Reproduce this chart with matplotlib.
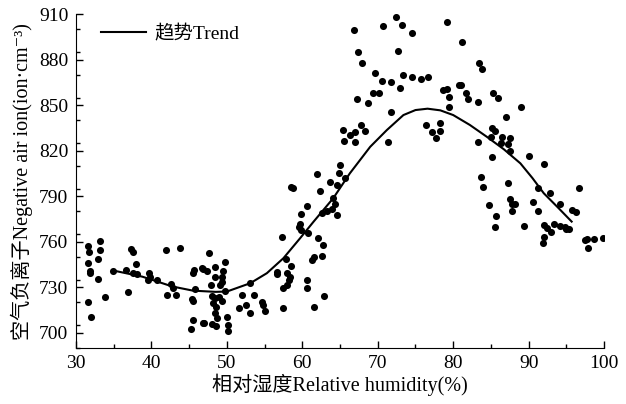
import numpy as np
import matplotlib.pyplot as plt
from matplotlib.ticker import MultipleLocator

plt.rcParams['font.family'] = ['Liberation Serif', 'Noto Sans CJK SC', 'DejaVu Sans']

# scatter points (relative humidity %, negative air ion)
humidity = [31.55, 31.76, 33.2, 33.2, 31.6, 31.9, 31.8, 32.96, 32.9, 31.6, 33.9, 32.0, 34.9,
            36.6, 36.85, 37.3, 37.5, 37.95, 37.6, 38.05, 39.7, 39.8, 39.6, 40.7, 41.9, 43.8,
            42.6, 42.9, 42.1, 43.2, 45.7, 45.55, 46.7, 45.8, 45.4, 45.55, 45.55, 45.3, 46.8,
            47.6, 46.9, 47.4, 48.4, 49.75, 49.5, 48.4, 49.3, 49.4, 47.9, 49.1, 49.75, 48.0,
            48.4, 48.9, 49.4, 48.2, 48.6, 48.4, 48.65, 47.0, 48.0, 48.6, 50.0, 50.1, 50.1,
            51.95, 51.6, 52.6, 53.1, 53.6, 54.6, 54.75, 55.05, 53.0, 57.5, 57.5, 56.7, 57.8,
            58.0, 58.4, 58.0, 56.6, 58.5, 58.3, 57.35, 59.5, 59.8, 60.7, 62.1, 62.8, 61.5,
            61.25, 62.6, 60.6, 60.6, 62.9, 61.5, 65.4, 66.3, 67.0, 67.8, 68.3, 65.5, 67.0,
            65.0, 64.8, 65.7, 62.0, 63.7, 64.6, 58.5, 58.8, 62.4, 64.1, 64.3, 63.3, 64.0,
            64.6, 62.6, 60.6, 59.8, 59.7, 66.8, 70.7, 72.4, 73.2, 74.5, 79.2, 67.4, 67.95,
            72.65, 69.6, 70.6, 71.8, 73.3, 74.6, 75.7, 76.6, 72.95, 69.4, 70.2, 67.2, 68.7,
            71.8, 71.4, 78.6, 79.2, 79.5, 79.45, 80.8, 76.4, 77.2, 78.3, 78.3, 77.7, 81.2,
            83.4, 83.8, 81.0, 81.7, 81.9, 83.25, 85.3, 86.0, 89.0, 87.0, 85.2, 85.5, 85.0,
            86.5, 87.5, 83.25, 86.4, 87.2, 87.5, 85.1, 90.05, 92.0, 83.65, 84.0, 87.2, 91.2,
            92.8, 96.7, 87.5, 87.8, 88.2, 87.8, 84.8, 85.7, 85.55, 89.4, 90.6, 91.2, 94.2,
            95.7, 96.3, 92.0, 92.4, 93.3, 94.2, 94.8, 95.3, 94.95, 93.0, 92.1, 91.9, 97.5,
            97.8, 97.9, 98.6, 99.8]
ions = [757.5, 753, 760.4, 754.4, 746.3, 741, 739.3, 748.9, 735.3, 720.2, 723.7, 710.3, 740.6,
        741.5, 727.2, 755.1, 753.1, 745.2, 739.3, 738.6, 739.3, 736.7, 734.9, 734.9, 754.6, 756,
        732.0, 729.8, 724.8, 724.8, 741.5, 739.3, 742.6, 728.8, 722.4, 721.1, 708.6, 702.6, 706.8,
        752.7, 742.3, 741.0, 743.6, 746.9, 740.8, 736.7, 736.7, 733.8, 731.6, 731.6, 727.6, 724.4,
        722.8, 723.9, 721.1, 719.6, 716.9, 712.9, 709.7, 706.8, 705.9, 704.2, 710.3, 705.3, 701.5,
        725.0, 716.3, 718.4, 712.9, 725.0, 720.6, 718.4, 714.7, 733.1, 716.3, 729.4, 739.9, 748.5,
        739.3, 737.1, 731.6, 738.8, 744.3, 734.9, 763.4, 769.6, 767.8, 765.6, 762.3, 757.9, 750.2,
        748.0, 750.7, 734.9, 729.4, 724.4, 717.3, 833.6, 830.3, 832.5, 836.9, 833.0, 826.4, 825.9,
        810.6, 805.1, 802.2, 804.7, 799.2, 797.4, 796.3, 795.3, 793.7, 788.7, 784.9, 780.5, 781.4,
        777.7, 778.8, 783.6, 778.1, 771.7, 899.5, 902.1, 907.8, 902.8, 897.3, 904.7, 884.8, 877.9,
        885.4, 871.4, 866.1, 865.2, 869.6, 868.7, 867.0, 868.7, 861.1, 858.2, 858.2, 853.8, 851.2,
        845.7, 826.0, 860.0, 860.8, 855.2, 849.0, 863.1, 836.7, 832.5, 838.0, 833.2, 828.6, 891.6,
        877.9, 874.0, 863.3, 857.8, 853.8, 851.9, 857.8, 854.5, 848.6, 842.4, 834.8, 833.2, 829.2,
        829.2, 828.6, 825.9, 825.3, 824.4, 820.0, 816.1, 816.5, 811.3, 802.9, 795.9, 798.9, 795.3,
        792.4, 795.7, 788.0, 784.9, 784.9, 780.3, 784.1, 777.2, 770.0, 770.6, 786.0, 780.1, 784.9,
        781.0, 779.9, 771.1, 769.3, 771.7, 770.4, 770.0, 768.5, 768.3, 766.7, 763.4, 759.0, 761.2,
        761.5, 755.8, 761.7, 762.7]

# trend curve
trend_x = [35.0, 38.8, 42.8, 45.5, 48.5, 50.0, 53.1, 55.3, 57.5, 59.7, 61.5, 64.1, 66.3,
           69.0, 71.2, 73.4, 75.0, 76.6, 78.3, 80.0, 82.2, 84.45, 86.7, 88.9, 90.5, 92.0, 93.9, 95.7]
trend_y = [741, 737, 730.5, 727.8, 727, 727.2, 732.7, 739.3, 749.2, 762.3, 773.3, 788.7, 805.1,
           822.6, 833.6, 843.5, 846.8, 847.7, 846.6, 843.5, 837.0, 829.2, 821.0, 811.7, 802.0, 792.0, 782.5, 773.3]

fig = plt.figure(figsize=(6.26, 4.04), dpi=100)
ax = fig.add_axes([0.1214, 0.1386, 0.8436, 0.8264])

ax.scatter(humidity, ions, s=26, color='black', zorder=3, linewidths=0)
ax.plot(trend_x, trend_y, color='black', lw=1.5, label='趋势Trend', zorder=4)

ax.set_xlim(30, 100)
ax.set_ylim(690, 910)
ax.set_xticks(np.arange(30, 101, 10))
ax.set_yticks(np.arange(700, 911, 30))
ax.xaxis.set_minor_locator(MultipleLocator(5))
ax.yaxis.set_minor_locator(MultipleLocator(15))
ax.tick_params(which='major', direction='in', length=5, width=1, labelsize=14)
ax.tick_params(which='minor', direction='in', length=3, width=1)
ax.tick_params(axis='x', pad=5)
ax.tick_params(axis='y', pad=5.5)
ax.spines['top'].set_visible(False)
ax.spines['right'].set_visible(False)

ax.set_xlabel('相对湿度Relative humidity(%)', fontsize=14.5, labelpad=1)
ax.set_ylabel('空气负离子Negative air ion(ion·cm⁻³)', fontsize=14.5, labelpad=4)

leg = ax.legend(loc='upper left', frameon=False, fontsize=14, handlelength=2.3,
                handletextpad=0.4, bbox_to_anchor=(0.015, 1.02))

fig.savefig('out.png', dpi=100)
